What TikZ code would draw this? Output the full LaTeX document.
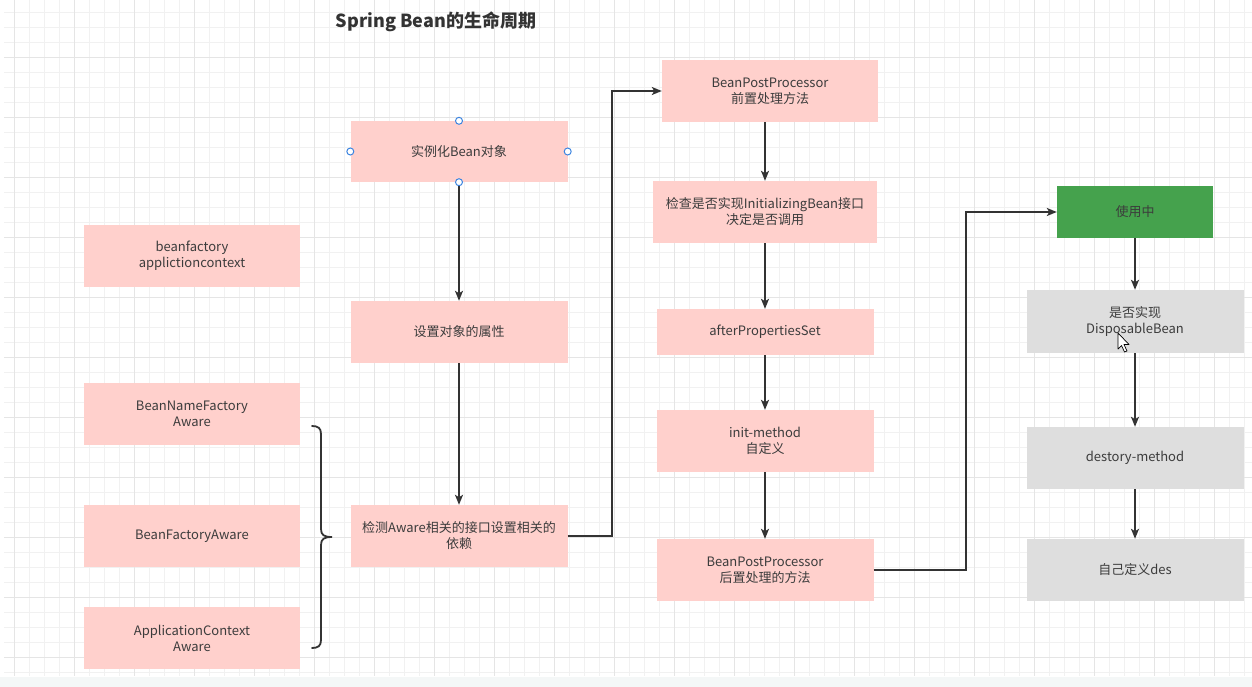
\documentclass[tikz,border=0pt]{standalone}
\usepackage{fontspec}
\newfontfamily\cjk{Noto Sans CJK SC}
\usetikzlibrary{arrows.meta}
\definecolor{pinkfill}{HTML}{FFD0CC}
\definecolor{grayfill}{HTML}{DEDEDE}
\definecolor{greenfill}{HTML}{45A24D}
\definecolor{ink}{HTML}{333333}
\definecolor{txt}{HTML}{3C3C3C}
\definecolor{gridminor}{HTML}{F1F1F1}
\definecolor{gridmajor}{HTML}{E5E5E5}
\definecolor{bandfill}{HTML}{F4F7F7}
\definecolor{handle}{HTML}{3D85E0}
\tikzset{
  box/.style={rectangle, inner sep=0pt, align=center, text=txt,
    font=\cjk\fontsize{13}{16}\selectfont},
  pinkbox/.style={box, fill=pinkfill, minimum width=217pt, minimum height=62pt},
  graybox/.style={box, fill=grayfill, minimum width=217pt, minimum height=62pt},
  flow/.style={draw=ink, line width=1.8pt,
    -{Stealth[length=10pt,width=8pt,inset=2.5pt]}},
  bracepath/.style={draw=ink, line width=1.8pt, line cap=round},
  selhandle/.style={circle, draw=handle, fill=white, line width=1pt,
    minimum size=7pt, inner sep=0pt}
}
\begin{document}
\begin{tikzpicture}[x=1pt, y=-1pt]
  % canvas and grid
  \fill[white] (0,0) rectangle (1252,687);
  \useasboundingbox (0,0) rectangle (1252,687);
  \foreach \gx in {14,29,...,1252} \draw[gridminor, line width=0.9pt] (\gx,0) -- (\gx,676);
  \foreach \gy in {12,27,...,676} \draw[gridminor, line width=0.9pt] (4,\gy) -- (1252,\gy);
  \foreach \gx in {14,74,...,1252} \draw[gridmajor, line width=0.9pt] (\gx,0) -- (\gx,676);
  \foreach \gy in {57,117,...,676} \draw[gridmajor, line width=0.9pt] (4,\gy) -- (1252,\gy);
  \fill[bandfill] (0,677) rectangle (1252,687);

  % title
  \node[text=ink, font=\cjk\bfseries\fontsize{18}{21}\selectfont] (title) at (436,22) {Spring Bean的生命周期};

  % left column
  \node[pinkbox, minimum width=216pt] (bf)   at (192,256) {beanfactory\\applictioncontext};
  \node[pinkbox, minimum width=216pt] (bnfa) at (192,414) {BeanNameFactory\\Aware};
  \node[pinkbox, minimum width=216pt] (bfa)  at (192,536) {BeanFactoryAware};
  \node[pinkbox, minimum width=216pt] (aca)  at (192,638) {ApplicationContext\\Aware};

  % creation column
  \node[pinkbox, minimum height=61pt] (inst) at (459,151.5) {实例化Bean对象};
  \node[pinkbox] (setp)  at (459,332) {设置对象的属性};
  \node[pinkbox] (aware) at (459,536) {检测Aware相关的接口设置相关的\\依赖};

  % initialisation column
  \node[pinkbox, minimum width=216pt] (bppre) at (770,91) {BeanPostProcessor\\前置处理方法};
  \node[pinkbox, minimum width=224pt] (check) at (765,212) {检查是否实现InitializingBean接口\\决定是否调用};
  \node[pinkbox, minimum height=46pt] (aps) at (765,332) {afterPropertiesSet};
  \node[pinkbox] (init)   at (765,441) {init-method\\自定义};
  \node[pinkbox] (bppost) at (765,570) {BeanPostProcessor\\后置处理的方法};

  % usage and destruction column
  \node[box, fill=greenfill, minimum width=156pt, minimum height=52pt] (use) at (1135,212) {使用中};
  \node[graybox, minimum height=63pt] (disp) at (1135,321.5) {是否实现\\DisposableBean};
  \node[graybox] (destroy) at (1135,458) {destory-method};
  \node[graybox] (own)     at (1135,570) {自己定义des};

  % connectors
  \draw[flow] (inst.south) -- (setp.north);
  \draw[flow] (setp.south) -- (aware.north);
  \draw[flow] (aware.east) -- ++(44,0) |- (bppre.west);
  \draw[flow] (check.north |- bppre.south) -- (check.north);
  \draw[flow] (check.south) -- (aps.north);
  \draw[flow] (aps.south) -- (init.north);
  \draw[flow] (init.south) -- (bppost.north);
  \draw[flow] (bppost.east) -- ++(92,0) |- (use.west);
  \draw[flow] (use.south) -- (disp.north);
  \draw[flow] (disp.south) -- (destroy.north);
  \draw[flow] (destroy.south) -- (own.north);

  % brace grouping the Aware interfaces
  \coordinate (bracetip) at (332,537);
  \draw[bracepath] (312,426) .. controls (318,426) and (321,428) .. (321,434)
    -- (321,529) .. controls (321,535) and (324,537) .. (bracetip)
    .. controls (324,537) and (321,539) .. (321,545)
    -- (321,640) .. controls (321,646) and (318,648) .. (312,648);

  % selection handles on the selected shape
  \node[selhandle] (hn) at (inst.north) {};
  \node[selhandle] (hs) at (inst.south) {};
  \node[selhandle] (hw) at (inst.west) {};
  \node[selhandle] (he) at (inst.east) {};

  % mouse pointer
  \draw[black, fill=white, line width=0.7pt, line join=round]
    (1118,333) -- (1118,349) -- (1121.5,345.5) -- (1124.5,352) -- (1127,351)
    -- (1124,344.5) -- (1129,344.5) -- cycle;
\end{tikzpicture}
\end{document}
